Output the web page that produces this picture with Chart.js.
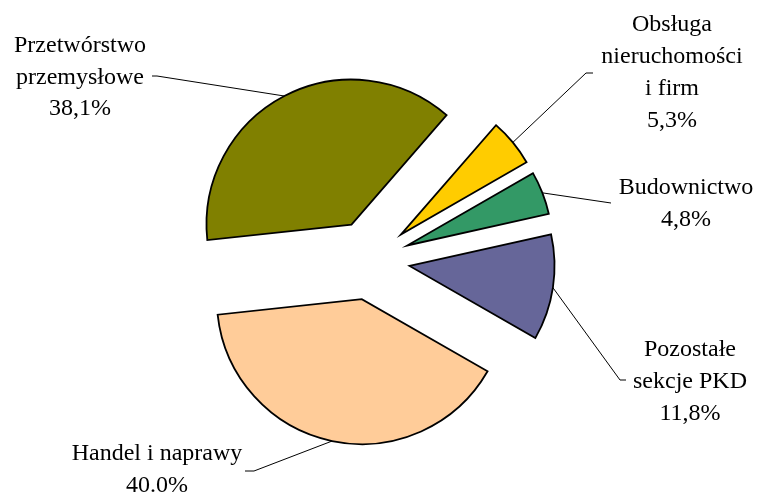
<!DOCTYPE html>
<html>
<head>
<meta charset="utf-8">
<script src="https://cdn.jsdelivr.net/npm/chart.js@4/dist/chart.umd.min.js"></script>
<style>
  html, body { margin: 0; padding: 0; background: #fff; }
  #wrap { width: 757px; height: 494px; position: relative; }
</style>
</head>
<body>
<div id="wrap"><canvas id="c" width="757" height="494"></canvas></div>
<script>
// ---- data ----
const categories = [
  ["Obsługa", "nieruchomości", "i firm"],
  ["Budownictwo"],
  ["Pozostałe", "sekcje PKD"],
  ["Handel i naprawy"],
  ["Przetwórstwo", "przemysłowe"]
];
const shares = [5.3, 4.8, 11.8, 40.0, 38.1];
const shareLabels = ["5,3%", "4,8%", "11,8%", "40.0%", "38,1%"];

// ---- styling / layout ----
const colors = ["#FFCC00", "#339966", "#666699", "#FFCC99", "#808000"];
const EXPLODE = 40;
const FONT = '24px "Liberation Serif", "Times New Roman", serif';
// label text centres/baselines and leader-line end points
const labelLayout = [
  { cx: 672, baselines: [31, 63, 95, 127], leader: [[586, 73], [593, 73]] },
  { cx: 686, baselines: [194, 226], leader: [[611, 203]] },
  { cx: 690, baselines: [356, 388, 420], leader: [[620, 380], [626, 380]] },
  { cx: 157, baselines: [460, 492], leader: [[254, 471], [245, 471]] },
  { cx: 80,  baselines: [52, 84, 115], leader: [[157, 76], [152, 76]] }
];

const explodePlugin = {
  id: 'explode',
  beforeDatasetsDraw(chart) {
    const ca = chart.chartArea;
    const bx = (ca.left + ca.right) / 2, by = (ca.top + ca.bottom) / 2;
    chart.getDatasetMeta(0).data.forEach(arc => {
      const mid = (arc.startAngle + arc.endAngle) / 2;
      arc.x = bx + EXPLODE * Math.cos(mid);
      arc.y = by + EXPLODE * Math.sin(mid);
    });
  }
};

const labelPlugin = {
  id: 'outerLabels',
  afterDatasetsDraw(chart) {
    const ctx = chart.ctx;
    const arcs = chart.getDatasetMeta(0).data;
    ctx.save();
    arcs.forEach((arc, i) => {
      const mid = (arc.startAngle + arc.endAngle) / 2;
      const sx = arc.x + arc.outerRadius * Math.cos(mid);
      const sy = arc.y + arc.outerRadius * Math.sin(mid);
      const L = labelLayout[i];
      ctx.beginPath();
      ctx.strokeStyle = '#000';
      ctx.lineWidth = 1;
      ctx.moveTo(sx, sy);
      L.leader.forEach(p => ctx.lineTo(p[0], p[1]));
      ctx.stroke();
      const lines = categories[i].concat([shareLabels[i]]);
      ctx.fillStyle = '#000';
      ctx.font = FONT;
      ctx.textAlign = 'center';
      ctx.textBaseline = 'alphabetic';
      lines.forEach((t, k) => ctx.fillText(t, L.cx, L.baselines[k]));
    });
    ctx.restore();
  }
};

new Chart(document.getElementById('c'), {
  type: 'pie',
  data: {
    labels: categories.map(c => c.join(' ')),
    datasets: [{
      data: shares,
      backgroundColor: colors,
      borderColor: '#000',
      borderWidth: 1.8,
      hoverBorderWidth: 1.8,
      borderJoinStyle: 'miter',
      offset: 0,
      hoverOffset: 0
    }]
  },
  options: {
    responsive: false,
    animation: false,
    events: [],
    rotation: 41,
    radius: 145,
    layout: { padding: { left: 50, right: 67, top: 40, bottom: 14 } },
    plugins: { legend: { display: false }, tooltip: { enabled: false } }
  },
  plugins: [explodePlugin, labelPlugin]
});
</script>
</body>
</html>
